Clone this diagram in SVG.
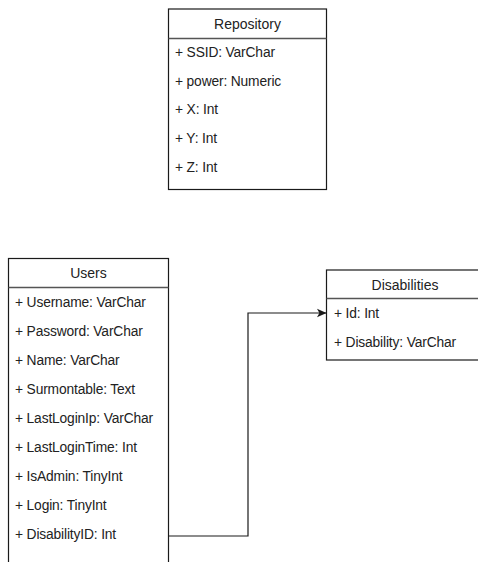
<svg xmlns="http://www.w3.org/2000/svg" width="478" height="562" viewBox="0 0 478 562">
  <style>
    .box { fill: #ffffff; stroke: #1a1a1a; stroke-width: 1.2; }
    .sep { stroke: #555555; stroke-width: 1.4; }
    .title { font-family: "Liberation Sans", Arial, sans-serif; font-size: 14px; fill: #222222; text-anchor: middle; }
    .attr { font-family: "Liberation Sans", Arial, sans-serif; font-size: 13.8px; fill: #222222; letter-spacing: -0.15px; }
    .edge { fill: none; stroke: #1a1a1a; stroke-width: 1.2; }
  </style>
  <defs>
    <marker id="arrow" viewBox="0 0 10 10" refX="9" refY="5" markerWidth="10" markerHeight="10" markerUnits="userSpaceOnUse" orient="auto">
      <path d="M0,0.8 L9.5,5 L0,9.2 L2.4,5 Z" fill="#1a1a1a"/>
    </marker>
  </defs>

  <rect width="478" height="562" fill="#ffffff"/>

  <!-- Repository table -->
  <g id="repository">
    <rect class="box" x="168.5" y="9" width="158" height="180.5"/>
    <line class="sep" x1="168.5" y1="38.5" x2="326.5" y2="38.5"/>
    <text class="title" x="247.5" y="29">Repository</text>
    <text class="attr" x="175" y="57">+ SSID: VarChar</text>
    <text class="attr" x="175" y="85.5">+ power: Numeric</text>
    <text class="attr" x="175" y="114">+ X: Int</text>
    <text class="attr" x="175" y="143">+ Y: Int</text>
    <text class="attr" x="175" y="172">+ Z: Int</text>
  </g>

  <!-- Users table (continues below the visible area) -->
  <g id="users">
    <rect class="box" x="8.5" y="258.5" width="160" height="330"/>
    <line class="sep" x1="8.5" y1="287.5" x2="168.5" y2="287.5"/>
    <text class="title" x="88.5" y="278">Users</text>
    <text class="attr" x="15" y="307">+ Username: VarChar</text>
    <text class="attr" x="15" y="336">+ Password: VarChar</text>
    <text class="attr" x="15" y="365">+ Name: VarChar</text>
    <text class="attr" x="15" y="394">+ Surmontable: Text</text>
    <text class="attr" x="15" y="423">+ LastLoginIp: VarChar</text>
    <text class="attr" x="15" y="452">+ LastLoginTime: Int</text>
    <text class="attr" x="15" y="481">+ IsAdmin: TinyInt</text>
    <text class="attr" x="15" y="510">+ Login: TinyInt</text>
    <text class="attr" x="15" y="539">+ DisabilityID: Int</text>
  </g>

  <!-- Disabilities table -->
  <g id="disabilities">
    <rect class="box" x="326.5" y="270" width="160" height="90"/>
    <line class="sep" x1="326.5" y1="298.5" x2="486.5" y2="298.5"/>
    <text class="title" x="405" y="290">Disabilities</text>
    <text class="attr" x="334" y="318">+ Id: Int</text>
    <text class="attr" x="334" y="347">+ Disability: VarChar</text>
  </g>

  <!-- Foreign key: Users.DisabilityID -> Disabilities.Id -->
  <g id="connectors">
    <path class="edge" d="M168.5,536 H248 V313 H326" marker-end="url(#arrow)"/>
  </g>
</svg>
